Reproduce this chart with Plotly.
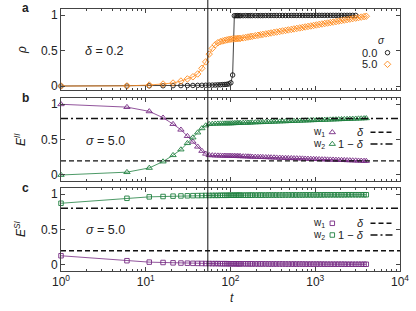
import plotly.graph_objects as go

# ---------------- data ----------------
t_all = [1, 6, 11, 16, 21, 26, 31, 36, 41, 46, 51, 56, 61, 66, 71, 76, 81, 86, 91, 96,
         101, 106, 111, 116, 121, 126, 131, 141, 151, 161, 171, 181, 196, 211, 226, 241,
         261, 281, 301, 326, 351, 381, 411, 446, 481, 521, 561, 606, 656, 706, 761, 821,
         886, 956, 1031, 1111, 1201, 1296, 1396, 1506, 1626, 1756, 1891, 2041, 2201, 2376,
         2561, 2766, 3001, 3236, 3491, 3766, 4001]

# panel a : rho, sigma = 0.0 (ends at t = 3001)
rho_s0 = [0.0, 0.0, 0.003, 0.004, 0.005, 0.006, 0.007, 0.008, 0.009, 0.010, 0.011, 0.012,
          0.013, 0.014, 0.016, 0.018, 0.020, 0.022, 0.025, 0.030,
          0.046, 0.155, 0.990, 0.991, 0.991, 0.991, 0.991, 0.991, 0.992, 0.992, 0.992, 0.992,
          0.992, 0.992, 0.992, 0.992, 0.993, 0.993, 0.993, 0.993, 0.993, 0.993, 0.993, 0.993,
          0.993, 0.994, 0.994, 0.994, 0.994, 0.994, 0.994, 0.994, 0.994, 0.994, 0.994, 0.995,
          0.995, 0.995, 0.995, 0.995, 0.995, 0.995, 0.995, 0.995, 0.995, 0.995, 0.995, 0.995,
          0.995]
# panel a : rho, sigma = 5.0
rho_s5 = [0.0, 0.002, 0.014, 0.028, 0.042, 0.07, 0.10, 0.13, 0.17, 0.25, 0.34, 0.45,
          0.53, 0.58, 0.61, 0.625, 0.635, 0.643, 0.65, 0.656,
          0.660, 0.663, 0.665, 0.667, 0.669, 0.670, 0.672, 0.678, 0.684, 0.690, 0.696, 0.701,
          0.708, 0.715, 0.721, 0.727, 0.734, 0.741, 0.747, 0.755, 0.761, 0.769, 0.776, 0.783,
          0.790, 0.797, 0.804, 0.811, 0.818, 0.825, 0.832, 0.839, 0.846, 0.853, 0.860, 0.867,
          0.874, 0.881, 0.887, 0.894, 0.901, 0.908, 0.915, 0.922, 0.929, 0.936, 0.943, 0.950,
          0.957, 0.964, 0.971, 0.978, 0.983]

# panel b : E^II
eii_w1 = [1.0, 0.96, 0.90, 0.81, 0.72, 0.64, 0.55, 0.47, 0.40, 0.34, 0.30, 0.28,
          0.277, 0.275, 0.274, 0.273, 0.272, 0.272, 0.271, 0.271,
          0.270, 0.269, 0.268, 0.267, 0.266, 0.266, 0.265, 0.263, 0.262, 0.261, 0.260, 0.258,
          0.257, 0.255, 0.254, 0.253, 0.251, 0.250, 0.248, 0.247, 0.245, 0.244, 0.242, 0.241,
          0.239, 0.238, 0.236, 0.235, 0.233, 0.232, 0.230, 0.229, 0.227, 0.226, 0.224, 0.223,
          0.221, 0.220, 0.218, 0.217, 0.216, 0.214, 0.213, 0.211, 0.210, 0.208, 0.207, 0.205,
          0.204, 0.202, 0.201, 0.199, 0.198]
eii_w2 = [0.0, 0.04, 0.10, 0.19, 0.28, 0.36, 0.45, 0.53, 0.60, 0.66, 0.70, 0.72,
          0.723, 0.725, 0.726, 0.727, 0.728, 0.728, 0.729, 0.729,
          0.730, 0.731, 0.732, 0.733, 0.734, 0.734, 0.735, 0.737, 0.738, 0.739, 0.740, 0.742,
          0.743, 0.745, 0.746, 0.747, 0.749, 0.750, 0.752, 0.753, 0.755, 0.756, 0.758, 0.759,
          0.761, 0.762, 0.764, 0.765, 0.767, 0.768, 0.770, 0.771, 0.773, 0.774, 0.776, 0.777,
          0.779, 0.780, 0.782, 0.783, 0.784, 0.786, 0.787, 0.789, 0.790, 0.792, 0.793, 0.795,
          0.796, 0.798, 0.799, 0.801, 0.802]

# panel c : E^SI
esi_w2 = [0.87, 0.94, 0.96, 0.965, 0.97, 0.973, 0.975, 0.977, 0.978, 0.979, 0.980, 0.980,
          0.981, 0.981, 0.981, 0.982, 0.982, 0.982, 0.982, 0.983,
          0.983, 0.983, 0.983, 0.983, 0.983, 0.984, 0.984, 0.984, 0.984, 0.984, 0.984, 0.985,
          0.985, 0.985, 0.985, 0.985, 0.985, 0.986, 0.986, 0.986, 0.986, 0.986, 0.986, 0.987,
          0.987, 0.987, 0.987, 0.987, 0.987, 0.987, 0.988, 0.988, 0.988, 0.988, 0.988, 0.988,
          0.988, 0.989, 0.989, 0.989, 0.989, 0.989, 0.989, 0.989, 0.989, 0.990, 0.990, 0.990,
          0.990, 0.990, 0.990, 0.990, 0.990]
esi_w1 = [0.13, 0.06, 0.04, 0.035, 0.03, 0.027, 0.025, 0.023, 0.022, 0.021, 0.020, 0.020,
          0.019, 0.019, 0.019, 0.018, 0.018, 0.018, 0.018, 0.017,
          0.017, 0.017, 0.017, 0.017, 0.017, 0.016, 0.016, 0.016, 0.016, 0.016, 0.016, 0.015,
          0.015, 0.015, 0.015, 0.015, 0.015, 0.014, 0.014, 0.014, 0.014, 0.014, 0.014, 0.013,
          0.013, 0.013, 0.013, 0.013, 0.013, 0.013, 0.012, 0.012, 0.012, 0.012, 0.012, 0.012,
          0.012, 0.011, 0.011, 0.011, 0.011, 0.011, 0.011, 0.011, 0.011, 0.010, 0.010, 0.010,
          0.010, 0.010, 0.010, 0.010, 0.010]

delta = 0.2
t_mark = 54
x_tickvals = [1, 10, 100, 1000, 10000]
x_ticktext = ["10<sup>0</sup>", "10<sup>1</sup>", "10<sup>2</sup>", "10<sup>3</sup>", "10<sup>4</sup>"]
y_tickvals = [0, 0.5, 1]

# ---------------- style ----------------
W, H = 416, 311
L, R, T, B = 61, 400, 9, 271   # plot-area pixel box
ORANGE = "#ff8a1c"
PURPLE = "#762a83"
GREEN = "#1f8040"
BLACK = "#111111"
FRAME = "#444444"
FONT = "Liberation Sans, Arial, sans-serif"

def px(xp):
    return (xp - L) / (R - L)

def py(yp):
    return (B - yp) / (B - T)

dom_a = [py(90), 1.0]
dom_b = [py(180.5), py(97.5)]
dom_c = [0.0, py(188)]

fig = go.Figure()

def series(x, y, color, symbol, size, ax, name):
    fig.add_trace(go.Scatter(
        x=x, y=y, mode="lines+markers", name=name,
        line=dict(color=color, width=0.8),
        marker=dict(symbol=symbol, size=size, color=color, line=dict(color=color, width=0.9)),
        xaxis="x" + ax, yaxis="y" + ax, showlegend=False, cliponaxis=False))

SZ_CIRC, SZ_DIAM, SZ_TRI, SZ_SQ = 4.5, 5, 5.5, 4.5
series(t_all[:len(rho_s0)], rho_s0, BLACK, "circle-open", SZ_CIRC, "", "0.0")
series(t_all, rho_s5, ORANGE, "diamond-open", SZ_DIAM, "", "5.0")
series(t_all, eii_w1, PURPLE, "triangle-up-open", SZ_TRI, "2", "w1")
series(t_all, eii_w2, GREEN, "triangle-up-open", SZ_TRI, "2", "w2")
series(t_all, esi_w2, GREEN, "square-open", SZ_SQ, "3", "w2")
series(t_all, esi_w1, PURPLE, "square-open", SZ_SQ, "3", "w1")

# legend glyphs on a pixel overlay axis (x4/y4 span the whole plot area)
def glyph(x, y, color, symbol, size):
    fig.add_trace(go.Scatter(x=[x], y=[y], mode="markers", xaxis="x4", yaxis="y4",
                             marker=dict(symbol=symbol, size=size, color=color,
                                         line=dict(color=color, width=0.9)),
                             showlegend=False, hoverinfo="skip", cliponaxis=False))

def seg(x0, x1, y, dash):
    fig.add_trace(go.Scatter(x=[x0, x1], y=[y, y], mode="lines", xaxis="x4", yaxis="y4",
                             line=dict(color=BLACK, width=1.4, dash=dash),
                             showlegend=False, hoverinfo="skip", cliponaxis=False))

glyph(387.5, 52.7, BLACK, "circle-open", SZ_CIRC)
glyph(387.5, 64.3, ORANGE, "diamond-open", SZ_DIAM)
glyph(332.3, 132.3, PURPLE, "triangle-up-open", SZ_TRI)
glyph(332.3, 144.0, GREEN, "triangle-up-open", SZ_TRI)
glyph(332.3, 223.3, PURPLE, "square-open", SZ_SQ)
glyph(332.3, 235.0, GREEN, "square-open", SZ_SQ)
DASH = "5px,3px"
DASHDOT = "7px,3px,2px,3px"
seg(370.5, 394, 132.3, DASH)
seg(370.5, 394, 144.0, DASHDOT)
seg(370.5, 394, 223.3, DASH)
seg(370.5, 394, 235.0, DASHDOT)

xcommon = dict(type="log", range=[0, 4], showline=True, linecolor=FRAME, linewidth=1,
               mirror="allticks", ticks="inside", ticklen=4, tickcolor=FRAME,
               tickvals=x_tickvals, ticktext=x_ticktext, showgrid=False, zeroline=False,
               minor=dict(ticks="inside", ticklen=2, tickcolor=FRAME, dtick="D1", showgrid=False),
               tickfont=dict(family=FONT, size=12, color="#222"))
ycommon = dict(showline=True, linecolor=FRAME, linewidth=1, mirror="allticks",
               ticks="inside", ticklen=4, tickcolor=FRAME, tickvals=y_tickvals,
               showgrid=False, zeroline=False, tickfont=dict(family=FONT, size=12, color="#222"))

fig.update_layout(
    width=W, height=H, margin=dict(l=L, r=W - R, t=T, b=H - B, autoexpand=False),
    paper_bgcolor="white", plot_bgcolor="rgba(0,0,0,0)",
    font=dict(family=FONT, size=12, color="#222"),
    xaxis=dict(xcommon, anchor="y", showticklabels=False),
    yaxis=dict(ycommon, domain=dom_a, range=[-0.056, 1.085]),
    xaxis2=dict(xcommon, anchor="y2", matches="x", showticklabels=False),
    yaxis2=dict(ycommon, domain=dom_b, range=[-0.078, 1.096]),
    xaxis3=dict(xcommon, anchor="y3", matches="x", showticklabels=True),
    yaxis3=dict(ycommon, domain=dom_c, range=[-0.085, 1.085]),
    xaxis4=dict(domain=[0, 1], range=[L, R], autorange=False, visible=False,
                anchor="y4", fixedrange=True),
    yaxis4=dict(domain=[0, 1], range=[B, T], autorange=False, visible=False,
                anchor="x4", fixedrange=True),
)

# reference lines
for ax in ["2", "3"]:
    fig.add_shape(type="line", xref="x" + ax + " domain", yref="y" + ax, x0=0, x1=1,
                  y0=delta, y1=delta, line=dict(color=BLACK, width=1.4, dash=DASH))
    fig.add_shape(type="line", xref="x" + ax + " domain", yref="y" + ax, x0=0, x1=1,
                  y0=1 - delta, y1=1 - delta, line=dict(color=BLACK, width=1.4, dash=DASHDOT))
fig.add_shape(type="line", xref="x", yref="paper", x0=t_mark, x1=t_mark, y0=0, y1=py(0),
              line=dict(color=BLACK, width=1))

def ann(x, y, text, size=12, xanchor="center", angle=0, color="#222"):
    fig.add_annotation(x=px(x), y=py(y), xref="paper", yref="paper", text=text,
                       showarrow=False, xanchor=xanchor, yanchor="middle", textangle=angle,
                       font=dict(family=FONT, size=size, color=color))

ann(25, 8.5, "<b>a</b>", 12)
ann(25, 98, "<b>b</b>", 12)
ann(25, 187.5, "<b>c</b>", 12)
ann(22, 50, "<i>ρ</i>", 12, angle=-90)
ann(20, 140, "<i>E</i><sup><i>II</i></sup>", 12, angle=-90)
ann(20, 229, "<i>E</i><sup><i>SI</i></sup>", 12, angle=-90)
ann(104, 51, "<i>δ</i> = 0.2", 12.5)
ann(105, 141, "<i>σ</i> = 5.0", 12.5)
ann(105, 230, "<i>σ</i> = 5.0", 12.5)
ann(231.5, 298, "<i>t</i>", 12)
ann(381, 40, "<i>σ</i>", 10)
ann(369.5, 52.7, "0.0", 11)
ann(369.5, 64.3, "5.0", 11)
ann(326.5, 132.3, "w<sub>1</sub>", 10, xanchor="right")
ann(326.5, 144.0, "w<sub>2</sub>", 10, xanchor="right")
ann(366, 132.3, "<i>δ</i>", 11, xanchor="right")
ann(366, 144.0, "1 − <i>δ</i>", 11, xanchor="right")
ann(326.5, 223.3, "w<sub>1</sub>", 10, xanchor="right")
ann(326.5, 235.0, "w<sub>2</sub>", 10, xanchor="right")
ann(366, 223.3, "<i>δ</i>", 11, xanchor="right")
ann(366, 235.0, "1 − <i>δ</i>", 11, xanchor="right")

fig.write_html("out.html", config={"displayModeBar": False},
               post_script="document.body.style.margin='0';document.body.style.padding='0';")
